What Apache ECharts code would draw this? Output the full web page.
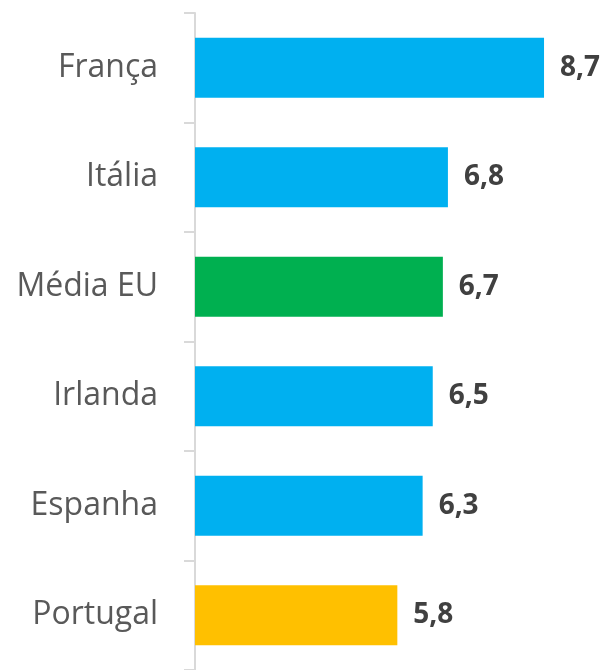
<!DOCTYPE html>
<html>
<head>
<meta charset="utf-8">
<script src="https://cdn.jsdelivr.net/npm/echarts@6/dist/echarts.min.js"></script>
<style>
html,body{margin:0;padding:0;background:#fff;}
#c{width:604px;height:670px;}
</style>
</head>
<body>
<div id="c"></div>
<script>
var categories = ["França", "Itália", "Média EU", "Irlanda", "Espanha", "Portugal"];
var values = [8.7, 6.8, 6.7, 6.5, 6.3, 5.8];
var barColors = ["#00B0F0", "#00B0F0", "#00B050", "#00B0F0", "#00B0F0", "#FFC000"];

var chart = echarts.init(document.getElementById('c'));
chart.setOption({
  animation: false,
  backgroundColor: '#ffffff',
  grid: { left: 195, right: 19.5, top: 13, bottom: -6, containLabel: false },
  xAxis: {
    type: 'value', min: 1.8, max: 9.5, show: false
  },
  yAxis: {
    type: 'category',
    data: categories,
    inverse: true,
    axisLine: { show: true, lineStyle: { color: '#D9D9D9', width: 2 } },
    axisTick: { show: true, length: 11, lineStyle: { color: '#D9D9D9', width: 2 } },
    axisLabel: {
      margin: 37,
      color: '#595959',
      fontSize: 32,
      fontFamily: 'Open Sans',
      padding: [4, 0, 0, 0]
    },
    splitLine: { show: false }
  },
  series: [{
    type: 'bar',
    data: values.map(function (v, i) { return { value: v, itemStyle: { color: barColors[i] } }; }),
    barCategoryGap: '45%',
    label: {
      show: true,
      position: 'right',
      distance: 16,
      formatter: function (p) { return String(p.value).replace('.', ','); },
      color: '#404040',
      fontWeight: 'bold',
      fontSize: 28,
      fontFamily: 'Open Sans',
      padding: [6, 0, 0, 0]
    }
  }]
});
</script>
</body>
</html>
